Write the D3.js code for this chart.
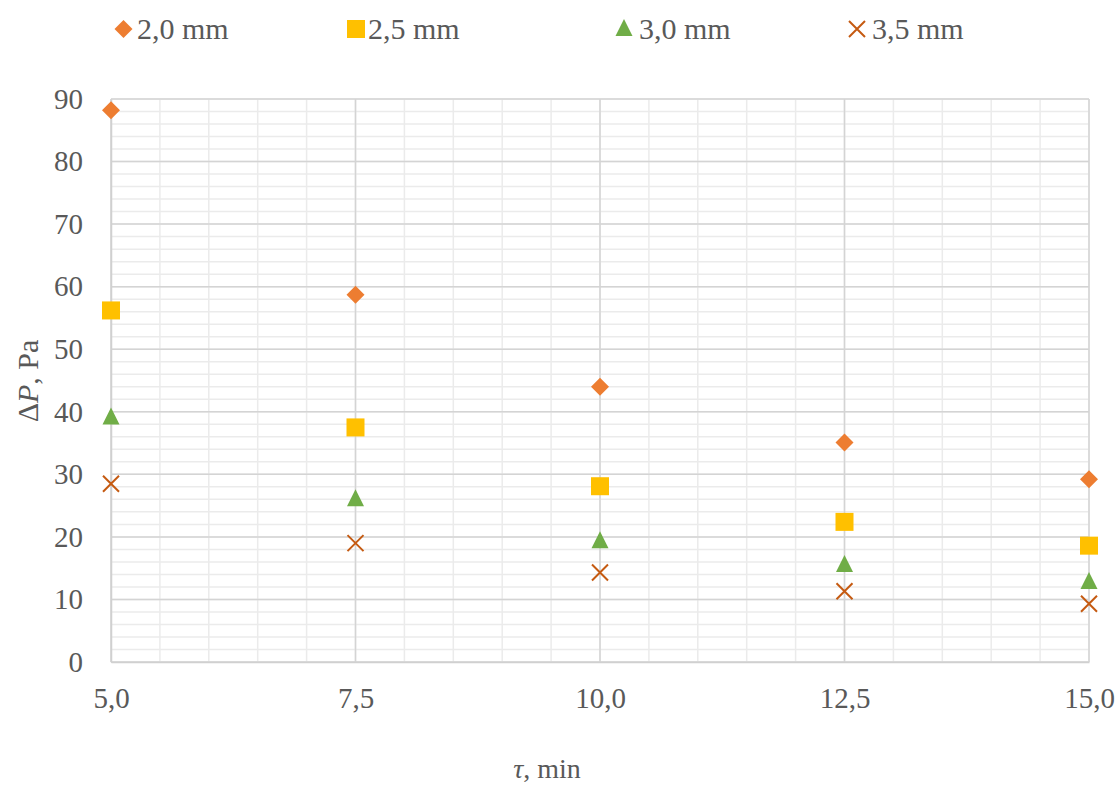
<!DOCTYPE html>
<html><head><meta charset="utf-8">
<script src="https://cdn.jsdelivr.net/npm/d3@7"></script>
<style>body{margin:0;background:#fff}svg{display:block}</style>
</head><body><svg id="c" width="1117" height="785"></svg>
<script>
const times = [5.0, 7.5, 10.0, 12.5, 15.0];
const seriesNames = ["2,0 mm", "2,5 mm", "3,0 mm", "3,5 mm"];
const s20 = [88.2, 58.7, 44.0, 35.1, 29.2];
const s25 = [56.2, 37.5, 28.1, 22.4, 18.6];
const s30 = [39.1, 26.0, 19.3, 15.5, 12.8];
const s35 = [28.5, 19.0, 14.3, 11.3, 9.3];
const xTicks = [5.0, 7.5, 10.0, 12.5, 15.0];
const yTicks = [0, 10, 20, 30, 40, 50, 60, 70, 80, 90];

const series = [
  {name: seriesNames[0], values: s20, color: "#ED7D31", shape: "diamond"},
  {name: seriesNames[1], values: s25, color: "#FFC000", shape: "square"},
  {name: seriesNames[2], values: s30, color: "#70AD47", shape: "triangle"},
  {name: seriesNames[3], values: s35, color: "#C55A11", shape: "cross"}
];

const FONT = "Liberation Serif";
const TXT = "#595959";
const svg = d3.select("#c").attr("font-family", FONT);
const L = 111, R = 1089, T = 99, B = 662;
const x = d3.scaleLinear().domain([5, 15]).range([L, R]);
const y = d3.scaleLinear().domain([0, 90]).range([B, T]);
const fmt = v => d3.format(".1f")(v).replace(".", ",");

const g = svg.append("g");
g.selectAll(".mx").data(d3.range(5, 15.01, 0.5)).enter().append("line")
  .attr("x1", d => x(d)).attr("x2", d => x(d)).attr("y1", T).attr("y2", B)
  .attr("stroke", "#ebebeb").attr("stroke-width", 1.5);
g.selectAll(".my").data(d3.range(0, 90.01, 2)).enter().append("line")
  .attr("x1", L).attr("x2", R).attr("y1", d => y(d)).attr("y2", d => y(d))
  .attr("stroke", "#ebebeb").attr("stroke-width", 1.5);
g.selectAll(".Mx").data(xTicks).enter().append("line")
  .attr("x1", d => x(d)).attr("x2", d => x(d)).attr("y1", T).attr("y2", B)
  .attr("stroke", "#d4d4d4").attr("stroke-width", 1.5);
g.selectAll(".My").data(yTicks).enter().append("line")
  .attr("x1", L).attr("x2", R).attr("y1", d => y(d)).attr("y2", d => y(d))
  .attr("stroke", "#d4d4d4").attr("stroke-width", 1.5);

const xAxis = svg.append("g").attr("transform", `translate(0,${B})`)
  .call(d3.axisBottom(x).tickValues(xTicks).tickFormat(fmt).tickSize(0).tickPadding(25));
const yAxis = svg.append("g").attr("transform", `translate(${L},0)`)
  .call(d3.axisLeft(y).tickValues(yTicks).tickSize(0).tickPadding(28));
[xAxis, yAxis].forEach(a => {
  a.attr("font-family", FONT).attr("font-size", 29);
  a.select(".domain").attr("stroke", "#d0d0d0").attr("stroke-width", 1.5);
  a.selectAll("text").attr("fill", TXT).attr("font-family", FONT).attr("font-size", 29);
});

function drawMarker(sel, shape, color) {
  if (shape === "diamond") {
    sel.append("path").attr("d", "M0,-9L9,0L0,9L-9,0Z").attr("fill", color);
  } else if (shape === "square") {
    sel.append("rect").attr("x", -9).attr("y", -9).attr("width", 18).attr("height", 18).attr("fill", color);
  } else if (shape === "triangle") {
    sel.append("path").attr("d", "M0,-10L8.5,7L-8.5,7Z").attr("fill", color);
  } else {
    sel.append("path").attr("d", "M-8,-8L8,8M-8,8L8,-8").attr("stroke", color).attr("stroke-width", 2).attr("fill", "none");
  }
}
series.forEach(s => {
  svg.append("g").selectAll("g").data(s.values).enter().append("g")
    .attr("transform", (d, i) => `translate(${x(times[i])},${y(d)})`)
    .each(function() { drawMarker(d3.select(this), s.shape, s.color); });
});

const legX = [123.5, 356, 624, 857];
const legTextDx = [13.5, 12, 15, 15];
series.forEach((s, i) => {
  const lg = svg.append("g").attr("transform", `translate(${legX[i]},29)`);
  drawMarker(lg, s.shape, s.color);
  lg.append("text").attr("x", legTextDx[i]).attr("y", 9.5).attr("font-family", FONT).attr("font-size", 30).attr("fill", TXT).text(s.name);
});

const xt = svg.append("text").attr("x", 547).attr("y", 778).attr("text-anchor", "middle")
  .attr("font-family", FONT).attr("font-size", 28).attr("fill", TXT);
xt.append("tspan").attr("font-style", "italic").text("τ");
xt.append("tspan").text(", min");
const yt = svg.append("text").attr("transform", "translate(38,381) rotate(-90)").attr("text-anchor", "middle")
  .attr("font-family", FONT).attr("font-size", 30).attr("fill", TXT);
yt.append("tspan").text("Δ");
yt.append("tspan").attr("font-style", "italic").text("P");
yt.append("tspan").text(", Pa");
</script></body></html>
